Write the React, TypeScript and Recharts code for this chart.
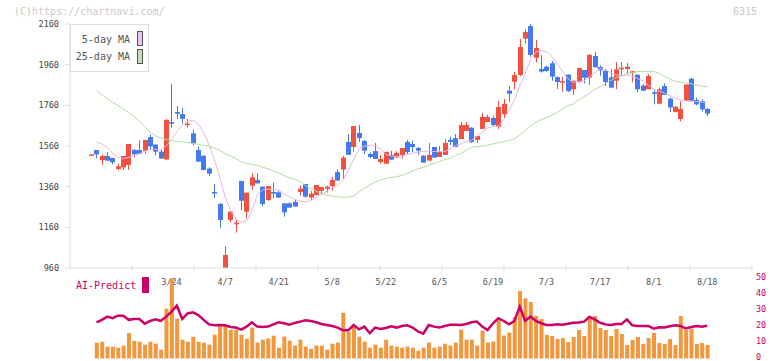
import { Bar, ComposedChart, Line, ReferenceLine, XAxis, YAxis } from "recharts";

const MONO = "'DejaVu Sans Mono', monospace";
const RED = "#f25140";
const BLUE = "#4479ef";

// one entry per trading day, 2/28 .. 8/18
const openPrices = [
  1519, 1540, 1491, 1511, 1501, 1447, 1455, 1467, 1540, 1540, 1537, 1604, 1567, 1532, 1494, 1678, 1727, 1717, 1663, 1622,
  1540, 1512, 1449, 1334, 1275, 953, 1196, 1175, 1388, 1237, 1365, 1393, 1360, 1294, 1334, 1332, 1278, 1278, 1285, 1334,
  1373, 1306, 1319, 1340, 1350, 1363, 1432, 1444, 1580, 1555, 1624, 1585, 1521, 1535, 1481, 1473, 1516, 1504, 1516, 1580,
  1570, 1550, 1512, 1488, 1555, 1506, 1516, 1590, 1599, 1594, 1634, 1650, 1590, 1644, 1678, 1698, 1655, 1717, 1832, 1876,
  1909, 2088, 2150, 1994, 1939, 1950, 1967, 1899, 1871, 1911, 1839, 1876, 1934, 1896, 2003, 1948, 1929, 1898, 1881, 1939,
  1939, 1922, 1911, 1857, 1839, 1824, 1768, 1855, 1793, 1727, 1693, 1783, 1891, 1786, 1781, 1742,
];
const highPrices = [
  1520, 1540, 1519, 1530, 1501, 1473, 1511, 1570, 1545, 1588, 1590, 1616, 1567, 1544, 1693, 1865, 1757, 1747, 1693, 1642,
  1557, 1515, 1455, 1373, 1281, 1068, 1240, 1196, 1388, 1333, 1426, 1426, 1360, 1363, 1380, 1340, 1278, 1283, 1295, 1365,
  1373, 1339, 1368, 1358, 1365, 1408, 1444, 1512, 1619, 1658, 1663, 1590, 1529, 1575, 1516, 1532, 1536, 1535, 1550, 1590,
  1585, 1555, 1516, 1575, 1555, 1560, 1594, 1606, 1619, 1678, 1678, 1652, 1609, 1722, 1713, 1708, 1781, 1791, 1855, 1925,
  2086, 2135, 2160, 2081, 2008, 1955, 1978, 1902, 1901, 1911, 1881, 1944, 1934, 2012, 2022, 1957, 1939, 1939, 1973, 1973,
  1968, 1929, 1911, 1865, 1914, 1835, 1848, 1868, 1799, 1757, 1781, 1865, 1896, 1798, 1789, 1747,
];
const lowPrices = [
  1518, 1499, 1468, 1485, 1470, 1439, 1442, 1442, 1504, 1519, 1521, 1545, 1514, 1498, 1491, 1650, 1693, 1671, 1652, 1562,
  1483, 1440, 1413, 1304, 1158, 945, 1185, 1134, 1245, 1204, 1344, 1376, 1265, 1291, 1303, 1306, 1212, 1257, 1262, 1316,
  1306, 1295, 1316, 1319, 1331, 1340, 1390, 1400, 1517, 1532, 1580, 1521, 1501, 1496, 1473, 1472, 1493, 1501, 1498, 1521,
  1530, 1516, 1478, 1488, 1503, 1506, 1516, 1565, 1555, 1594, 1634, 1575, 1575, 1644, 1678, 1653, 1644, 1698, 1778, 1838,
  1904, 2064, 1999, 1971, 1921, 1925, 1881, 1840, 1826, 1826, 1811, 1871, 1868, 1860, 1947, 1906, 1855, 1847, 1840, 1904,
  1914, 1873, 1824, 1830, 1839, 1765, 1765, 1811, 1726, 1726, 1681, 1781, 1783, 1760, 1730, 1706,
];
const closePrices = [
  1519, 1519, 1511, 1488, 1480, 1460, 1511, 1570, 1519, 1522, 1590, 1558, 1532, 1498, 1688, 1670, 1719, 1694, 1670, 1573,
  1483, 1442, 1424, 1326, 1196, 1024, 1237, 1183, 1291, 1330, 1406, 1376, 1275, 1363, 1326, 1306, 1234, 1257, 1262, 1350,
  1311, 1326, 1368, 1358, 1360, 1393, 1390, 1503, 1517, 1658, 1599, 1537, 1506, 1496, 1496, 1531, 1493, 1526, 1550, 1530,
  1555, 1537, 1478, 1516, 1503, 1530, 1575, 1580, 1555, 1663, 1663, 1580, 1609, 1703, 1703, 1663, 1752, 1767, 1817, 1909,
  2047, 2121, 2008, 2042, 1926, 1929, 1901, 1875, 1878, 1830, 1881, 1944, 1896, 2008, 1947, 1932, 1875, 1847, 1937, 1945,
  1950, 1927, 1839, 1832, 1904, 1819, 1839, 1811, 1750, 1753, 1742, 1862, 1783, 1765, 1740, 1719,
];
const ma5 = [
  null, 1578, 1570, 1553, 1524, 1504, 1498, 1504, 1512, 1522, 1535, 1542, 1544, 1540, 1560, 1593, 1630, 1663, 1680, 1688,
  1668, 1626, 1565, 1494, 1406, 1311, 1245, 1201, 1186, 1190, 1240, 1320, 1345, 1348, 1346, 1344, 1325, 1310, 1298, 1288,
  1285, 1290, 1308, 1322, 1338, 1355, 1366, 1390, 1440, 1495, 1545, 1560, 1563, 1563, 1545, 1520, 1510, 1508, 1511, 1518,
  1525, 1530, 1533, 1535, 1533, 1534, 1533, 1545, 1562, 1570, 1580, 1588, 1608, 1628, 1648, 1656, 1656, 1690, 1735, 1785,
  1855, 1915, 1985, 2022, 2029, 2024, 2000, 1965, 1925, 1890, 1873, 1875, 1880, 1898, 1922, 1940, 1935, 1920, 1910, 1906,
  1909, 1904, 1892, 1880, 1858, 1838, 1830, 1820, 1808, 1795, 1787, 1782, 1779, 1778, 1776, 1775,
];
const ma25 = [
  null, 1832, 1812, 1792, 1775, 1760, 1742, 1725, 1706, 1682, 1655, 1628, 1610, 1599, 1592, 1586, 1582, 1580, 1578, 1574,
  1568, 1563, 1558, 1550, 1538, 1522, 1512, 1498, 1483, 1474, 1470, 1465, 1456, 1448, 1438, 1428, 1414, 1403, 1397, 1385,
  1365, 1352, 1338, 1326, 1318, 1313, 1310, 1308, 1308, 1314, 1335, 1352, 1368, 1382, 1392, 1400, 1406, 1409, 1415, 1425,
  1437, 1448, 1455, 1465, 1474, 1484, 1494, 1499, 1514, 1522, 1540, 1552, 1557, 1560, 1564, 1570, 1576, 1581, 1588, 1595,
  1614, 1636, 1658, 1676, 1690, 1698, 1711, 1725, 1742, 1758, 1767, 1786, 1802, 1820, 1838, 1852, 1868, 1882, 1897, 1905,
  1914, 1920, 1926, 1926, 1926, 1926, 1918, 1901, 1890, 1878, 1874, 1871, 1866, 1859, 1855, 1852,
];
const volume = [
  null, 9.8, 10.4, 7.3, 7.3, 6.7, 8.0, 15.8, 10.9, 10.4, 8.6, 10.4, 9.2, 5.5, 30.9, 49.4, 24.7, 11.7, 10.4, 13.5,
  10.4, 9.8, 8.6, 14.8, 20.4, 20.4, 17.9, 17.9, 14.8, 12.3, 19.2, 9.9, 11.7, 12.4, 14.2, 6.7, 13.6, 11.1, 8.0, 11.7,
  7.4, 6.1, 8.0, 8.0, 5.5, 9.2, 9.9, 28.4, 16.7, 19.8, 13.6, 10.5, 6.7, 8.6, 6.7, 11.7, 8.0, 7.4, 6.7, 7.4,
  6.7, 4.8, 6.7, 9.9, 6.7, 7.4, 9.2, 8.0, 9.9, 17.9, 11.7, 11.7, 8.0, 17.3, 9.9, 10.5, 24.1, 14.2, 16.1, 25.6,
  41.9, 37.4, 35.1, 26.4, 24.5, 14.6, 14.0, 12.1, 12.7, 10.2, 13.4, 17.7, 14.0, 26.4, 26.4, 19.0, 17.7, 14.0, 18.4, 15.2,
  8.4, 11.5, 13.4, 9.0, 12.7, 15.9, 9.6, 9.0, 12.1, 8.4, 26.4, 17.7, 18.4, 9.0, 9.6, 8.4,
];
const aiPredict = [
  null, 22.5, 24.0, 26.0, 25.0, 26.6, 26.6, 24.0, 24.5, 24.5, 21.6, 23.3, 24.3, 23.3, 26.0, 29.1, 32.8, 24.5, 28.0, 28.7,
  27.0, 24.0, 21.2, 20.6, 20.8, 20.6, 19.6, 19.2, 17.9, 19.8, 22.5, 19.8, 19.6, 19.8, 21.2, 22.5, 21.9, 21.0, 22.1, 22.9,
  23.7, 23.3, 22.5, 21.4, 20.8, 20.2, 19.2, 17.5, 17.5, 20.8, 18.1, 19.8, 15.7, 19.2, 18.4, 19.0, 20.0, 19.2, 20.2, 20.6,
  19.2, 16.9, 15.4, 20.8, 19.8, 19.2, 20.2, 21.0, 21.0, 20.8, 21.4, 22.5, 22.9, 19.8, 17.7, 21.9, 25.0, 23.3, 21.2, 23.3,
  32.2, 23.5, 26.0, 23.3, 21.9, 20.8, 20.8, 21.2, 21.0, 21.6, 22.2, 22.4, 22.9, 25.8, 24.3, 22.2, 21.2, 20.8, 21.4, 21.4,
  24.3, 20.6, 20.2, 20.2, 20.2, 18.5, 19.4, 19.2, 20.0, 20.6, 20.2, 18.7, 19.6, 20.2, 19.8, 20.4,
];

const labelDays = [15, 25, 35, 45, 55, 65, 75, 85, 95, 105, 115];
const labelTexts = ["3/24", "4/7", "4/21", "5/8", "5/22", "6/5", "6/19", "7/3", "7/17", "8/1", "8/18"];
const priceTicks = [960, 1160, 1360, 1560, 1760, 1960, 2160];
const aiTicks = [0, 10, 20, 30, 40, 50];
const gridTicks = [7.63, 19.2, 30.77, 42.35, 53.92, 65.49, 77.06, 88.63, 100.2, 111.77, 123.35];
const xDomain = [-3.95, 123.35];

const rows = openPrices.map((o, i) => ({
  k: i,
  open: o,
  high: highPrices[i],
  low: lowPrices[i],
  close: closePrices[i],
  ma5: ma5[i],
  ma25: ma25[i],
  vol: volume[i],
  ai: aiPredict[i],
}));

function Candle(props: any) {
  const { x, y, width, height, payload } = props;
  if (x == null || !payload) return null;
  const { open, close, high, low } = payload;
  const span = high - low;
  const toY = (v: number) => (span > 0 ? y + ((high - v) / span) * height : y);
  const color = close >= open ? RED : BLUE;
  const cx = Math.round(x + width / 2);
  const top = toY(Math.max(open, close));
  const bottom = toY(Math.min(open, close));
  return (
    <g>
      <line x1={cx + 0.5} x2={cx + 0.5} y1={y} y2={y + height} stroke={color} strokeWidth={1} />
      <rect x={cx - 2} y={top} width={5} height={Math.max(bottom - top, 1.5)} fill={color} />
    </g>
  );
}

const text = (extra: any) => ({ position: "absolute" as const, fontFamily: MONO, fontSize: 10, lineHeight: "12px", whiteSpace: "nowrap" as const, ...extra });

export default function App() {
  return (
    <div style={{ position: "absolute", left: 0, top: 0, width: 772, height: 361, background: "#fff", overflow: "hidden" }}>
      <div style={{ position: "absolute", left: 0, top: 0 }}>
        <ComposedChart width={772} height={300} data={rows} margin={{ top: 24, right: 20, bottom: 0, left: 0 }}>
          <XAxis
            dataKey="k"
            type="number"
            domain={xDomain}
            allowDataOverflow
            ticks={labelDays}
            interval={0}
            tickFormatter={(v) => labelTexts[labelDays.indexOf(v)] ?? ""}
            height={32}
            tickLine={false}
            tickSize={6}
            tickMargin={5}
            axisLine={{ stroke: "#dddddd" }}
            tick={{ fontSize: 8.5, fill: "#555", fontFamily: MONO }}
          />
          <YAxis
            domain={[960, 2160]}
            allowDataOverflow
            ticks={priceTicks}
            interval={0}
            width={70}
            tickSize={5}
            tickMargin={6}
            axisLine={{ stroke: "#dddddd" }}
            tickLine={{ stroke: "#dddddd" }}
            tick={{ fontSize: 8.5, fill: "#444", fontFamily: MONO }}
          />
          {gridTicks.map((t) => (
            <ReferenceLine
              key={t}
              segment={[{ x: t, y: 950 }, { x: t, y: 975 }]}
              stroke="#dddddd"
              ifOverflow="visible"
            />
          ))}
          <Bar dataKey={(d: any) => [d.low, d.high]} barSize={5} shape={(p: any) => <Candle {...p} />} isAnimationActive={false} />
          <Line dataKey="ma5" type="linear" stroke="#e8b4e8" strokeWidth={1} dot={false} isAnimationActive={false} />
          <Line dataKey="ma25" type="linear" stroke="#b4dca4" strokeWidth={1} dot={false} isAnimationActive={false} />
        </ComposedChart>
      </div>
      <div style={{ position: "absolute", left: 0, top: 0 }}>
        <ComposedChart width={772} height={361} data={rows} margin={{ top: 278, right: 0, bottom: 2.5, left: 70 }}>
          <XAxis dataKey="k" type="number" domain={xDomain} allowDataOverflow hide />
          <YAxis
            orientation="right"
            domain={[0, 50]}
            ticks={aiTicks}
            interval={0}
            width={20}
            tickLine={false}
            axisLine={false}
            tickSize={0}
            tickMargin={4}
            tick={{ fontSize: 8.5, fill: "#cc0066", fontFamily: MONO, dy: -1.5 }}
          />
          <Bar dataKey="vol" barSize={4} fill="#f2973c" isAnimationActive={false} />
          <Line dataKey="ai" type="linear" stroke="#cc0066" strokeWidth={2.5} dot={false} isAnimationActive={false} />
        </ComposedChart>
      </div>

      <div style={text({ left: 14, top: 6, color: "#c8c8c8" })}>(C)https://chartnavi.com/</div>
      <div style={text({ right: 15, top: 6, color: "#c8c8c8" })}>6315</div>

      <div style={{ position: "absolute", left: 70, top: 24, width: 79, height: 48, border: "1px solid #dddddd", boxSizing: "border-box" }} />
      <div style={text({ right: 772 - 130, top: 34, color: "#555" })}>5-day MA</div>
      <div style={text({ right: 772 - 130, top: 51, color: "#555" })}>25-day MA</div>
      <div style={{ position: "absolute", left: 137, top: 31, width: 6, height: 15, boxSizing: "border-box", border: "1px solid #555", background: "#f0c0f0" }} />
      <div style={{ position: "absolute", left: 137, top: 49, width: 6, height: 15, boxSizing: "border-box", border: "1px solid #555", background: "#bfe0b4" }} />

      <div style={text({ left: 76, top: 280, color: "#cc0066" })}>AI-Predict</div>
      <div style={{ position: "absolute", left: 142, top: 277, width: 7, height: 16, background: "#cc0066" }} />
    </div>
  );
}
